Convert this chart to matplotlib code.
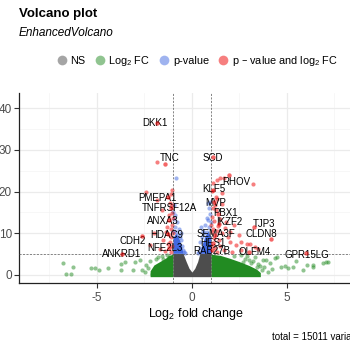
import numpy as np
import matplotlib
matplotlib.use('Agg')
import matplotlib.pyplot as plt
from matplotlib.lines import Line2D

plt.rcParams['font.family'] = ['Liberation Sans', 'DejaVu Sans']
plt.rcParams['mathtext.default'] = 'regular'
plt.rcParams['axes.unicode_minus'] = False

# dense cores: x, lower, upper (-log10 p)
ns_x = [-1.0, -0.47, -0.3, -0.15, 0.0, 0.15, 0.3, 0.42, 1.0]
ns_top = [5.2, 5.2, 3.2, 1.6, 0.7, 1.6, 3.2, 5.2, 5.2]
ns_bottom = [-0.4, -0.4, -0.4, -0.4, -0.4, -0.4, -0.4, -0.4, -0.4]

fc_left_x = [-2.2, -2.0, -1.7, -1.4, -1.2, -1.0]
fc_left_top = [1.0, 2.4, 3.2, 4.0, 4.7, 5.0]
fc_right_x = [1.0, 1.5, 2.0, 2.5, 3.0, 3.4, 3.6]
fc_right_top = [5.0, 4.7, 4.0, 3.2, 2.3, 1.4, 0.6]

p_left_x = [-1.0, -0.85, -0.7, -0.55, -0.47]
p_left_top = [9.0, 10.0, 9.0, 7.0, 5.2]
p_right_x = [0.42, 0.55, 0.7, 0.85, 1.0]
p_right_top = [5.2, 7.5, 9.5, 10.5, 9.0]

# scattered points outside the cores
fc_x = [-6.79, -6.28, -6.63, -6.37, -5.33, -5.1, -4.9, -4.4, -3.75, -3.75, -3.53, -3.12,
        -3.0, -2.74, -2.65, -2.47, -2.3, -2.4, -2.2, -2.1, -1.9, -2.0, -1.8, -1.6, -1.5,
        -1.3, -1.2,
        4.37, 4.1, 5.07, 5.86, 5.33, 7.05, 7.18, 6.88, 6.39, 6.04, 6.35, 4.46, 3.9, 3.75,
        3.3, 4.2, 3.8, 3.5, 2.9, 2.6, 4.7, 4.9, 5.5, 3.2, 4.0,
        3.1, 2.8, 3.4, 2.2, 3.7, 2.7, 3.0, 3.6]
fc_y = [2.8, 2.0, 0.2, 0.2, 1.6, 1.6, 1.2, 1.6, 2.6, 1.2, 3.1, 1.2,
        3.1, 3.6, 1.2, 0.7, 1.7, 2.4, 3.3, 0.3, 3.9, 1.2, 4.2, 4.6, 3.8,
        4.8, 4.4,
        4.0, 2.8, 1.6, 1.2, 1.8, 3.2, 3.2, 2.8, 2.4, 2.4, 2.0, 4.4, 3.5, 3.6,
        4.3, 1.4, 1.9, 2.6, 4.6, 4.8, 2.0, 2.2, 3.3, 3.4, 0.8,
        2.8, 3.9, 1.9, 4.5, 1.2, 3.0, 3.6, 2.2]

p_x = [-0.84, -0.8, -0.9, -0.95, -0.7, -0.6, -0.55, -0.5, -0.45, -0.4, -0.98, -0.75,
       -0.65, -0.85, -0.92, -0.97, -0.88, -0.35,
       0.95, 0.86, 0.77, 0.8, 0.5, 0.6, 0.9, 0.97, 0.7, 0.45, 0.4, 0.35, 0.55, 0.65,
       0.92, 0.98, 0.3, 0.86]
p_y = [23.3, 12.8, 11.6, 13.5, 11.0, 10.0, 8.5, 7.0, 6.0, 5.5, 10.5, 9.5,
       9.0, 10.2, 16.8, 15.0, 14.3, 5.3,
       14.6, 13.2, 10.4, 13.6, 11.6, 10.6, 16.0, 17.5, 12.0, 8.0, 6.5, 5.6, 9.2, 10.0,
       11.5, 12.6, 5.3, 17.2]

both_x = [-1.86, -2.44, -1.86, -1.6, -1.07, -1.98, -1.38, -1.16, -2.2, -1.05, -1.1, -1.3,
          -1.5, -1.05, -1.7, -1.1, -1.4, -1.05, -1.15, -1.08, -1.25, -1.02, -1.02, -1.2,
          -1.03, -1.12,
          1.47, 1.33, 3.23, 1.09, 1.56, 1.68, 1.04, 1.25, 1.3, 1.6, 1.1, 1.25, 1.5, 1.8,
          2.2, 1.15, 1.1, 1.3, 1.6, 2.0, 2.5, 2.88, 3.05, 3.3, 2.58, 2.0, 2.3, 1.5, 1.2,
          1.7, 2.1, 2.6, 3.5, 1.4, 1.05, 1.9, 1.05, 1.02, 1.35, 1.15, 1.08, 1.3, 1.75, 1.2]
both_y = [27.1, 19.8, 18.0, 15.5, 14.8, 10.0, 10.4, 8.0, 7.2, 12.0, 11.0, 11.5,
          8.5, 7.0, 6.2, 5.5, 5.8, 20.3, 17.2, 9.0, 7.5, 13.6, 10.0, 14.3,
          16.8, 19.4,
          23.3, 22.8, 21.8, 22.0, 19.6, 23.2, 20.2, 18.8, 18.2, 17.0, 16.0, 15.5, 13.5, 12.8,
          12.0, 13.0, 11.0, 10.5, 10.0, 10.2, 9.5, 7.4, 7.4, 6.8, 8.0, 8.0, 7.2, 7.0, 6.5,
          6.0, 5.6, 6.0, 6.2, 8.3, 10.2, 9.0, 14.0, 12.0, 11.8, 8.8, 7.0, 5.5, 11.2, 16.8]

# labelled genes
genes = ['DKK1', 'TNC', 'SCD', 'RHOV', 'KLF5', 'MVP', 'PBX1', 'IKZF2', 'TJP3', 'CLDN8',
         'SEMA3F', 'HES1', 'RAB27B', 'OLFM4', 'GPR15LG', 'PMEPA1', 'TNFRSF12A', 'ANXA3',
         'HDAC9', 'CDH2', 'NFE2L3', 'ANKRD1']
gene_fc = [-1.86, -1.42, 1.12, 1.95, 1.1, 1.15, 1.35, 1.45, 3.26, 4.14,
           1.2, 1.1, 1.05, 3.0, 6.0, -1.26, -1.1, -1.2,
           -1.25, -2.65, -1.2, -3.67]
gene_p = [36.4, 26.7, 28.2, 24.1, 20.3, 17.6, 14.6, 12.3, 11.5, 8.6,
          9.5, 7.6, 5.9, 5.4, 5.2, 18.8, 16.0, 13.2,
          9.8, 9.4, 6.5, 5.1]

# where the label text sits (data units)
label_pos = [(-1.95, 36.4), (-1.16, 28.1), (1.1, 28.1), (2.32, 22.3), (1.16, 20.6),
             (1.26, 17.3), (1.79, 14.9), (1.95, 12.7), (3.79, 12.2), (3.63, 9.8),
             (1.26, 9.8), (1.1, 7.7), (1.05, 5.8), (3.32, 5.5), (6.05, 4.8),
             (-1.84, 18.5), (-1.16, 16.1), (-1.53, 12.9), (-1.32, 9.6), (-3.1, 8.2),
             (-1.42, 6.5), (-3.68, 5.0)]

c_ns = '#4D4D4D'
c_fc = '#228B22'
c_p = '#4169E1'
c_both = '#EE0000'

fig = plt.figure(figsize=(3.5, 3.5), dpi=100)
ax = fig.add_axes([19/350, 1 - 283/350, 331/350, 190/350])

ax.set_xlim(-9.1, 8.32)
ax.set_ylim(-1.92, 43.67)

ax.set_xticks([-5, 0, 5])
ax.set_yticks([0, 10, 20, 30, 40])
ax.set_xticks([-7.5, -2.5, 2.5, 7.5], minor=True)
ax.set_yticks([5, 15, 25, 35], minor=True)
ax.grid(which='major', color='#EBEBEB', lw=0.9)
ax.grid(which='minor', color='#F4F4F4', lw=0.5)
ax.set_axisbelow(True)
for s in ['top', 'right']:
    ax.spines[s].set_visible(False)
for s in ['left', 'bottom']:
    ax.spines[s].set_color('#222222')
    ax.spines[s].set_linewidth(0.9)
ax.tick_params(which='major', length=3.5, width=0.8, color='#333333',
               labelsize=8.5, labelcolor='#4D4D4D')
ax.tick_params(axis='y', pad=1.5)
ax.tick_params(axis='x', pad=3)
ax.tick_params(which='minor', length=0)

# dense cores
ax.fill_between(ns_x, ns_bottom, ns_top, color=c_ns, lw=0, zorder=2)
ax.fill_between(fc_left_x, -0.4, fc_left_top, color=c_fc, lw=0, zorder=2)
ax.fill_between(fc_right_x, -0.4, fc_right_top, color=c_fc, lw=0, zorder=2)
ax.fill_between(p_left_x, 5.2, p_left_top, color=c_p, lw=0, zorder=2)
ax.fill_between(p_right_x, 5.2, p_right_top, color=c_p, lw=0, zorder=2)

ax.scatter(fc_x, fc_y, s=9, color=c_fc, alpha=0.5, lw=0, zorder=3)
ax.scatter(p_x, p_y, s=9, color=c_p, alpha=0.5, lw=0, zorder=3)
ax.scatter(both_x, both_y, s=9, color=c_both, alpha=0.5, lw=0, zorder=3)

# cutoffs
for xv in [-1, 1]:
    ax.axvline(xv, color='#555555', lw=0.5, ls=(0, (3, 2)), zorder=4)
ax.axhline(5, color='#555555', lw=0.5, ls=(0, (3, 2)), zorder=4)

for g, (lx, ly) in zip(genes, label_pos):
    ax.text(lx, ly, g, fontsize=7, ha='center', va='center', color='black', zorder=5)
ax.scatter(gene_fc, gene_p, s=10, color=c_both, alpha=0.6, lw=0, zorder=6)

fig.text(196/350, 1 - 314/350, 'Log$_2$ fold change', fontsize=9, ha='center', va='center')

fig.text(19/350, 1 - 14/350, 'Volcano plot', fontsize=9.5, fontweight='bold',
         ha='left', va='center')
fig.text(19/350, 1 - 33/350, 'EnhancedVolcano', fontsize=8.5, style='italic',
         ha='left', va='center')

handles = [Line2D([], [], marker='o', ls='', color=c, alpha=0.5, markersize=7, mew=0)
           for c in [c_ns, c_fc, c_p, c_both]]
labels = ['NS', 'Log$_2$ FC', 'p-value', 'p \u2013 value and log$_2$ FC']
fig.legend(handles, labels, loc='center', bbox_to_anchor=(0.563, 1 - 61/350), ncol=4,
           frameon=False, fontsize=7.8, handletextpad=0.3, columnspacing=0.8,
           handlelength=1.0)

fig.text(272/350, 1 - 337/350, 'total = 15011 variables', fontsize=7,
         ha='left', va='center')

fig.savefig('out.png', dpi=100)
